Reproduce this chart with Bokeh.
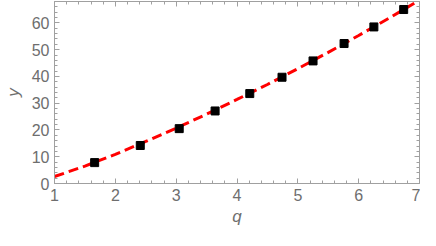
from bokeh.plotting import figure
from bokeh.models import Range1d, LinearAxis, FixedTicker
from bokeh.embed import file_html
from bokeh.resources import INLINE

# data points (squares)
q_data = [1.66, 2.41, 3.05, 3.64, 4.21, 4.74, 5.25, 5.76, 6.25, 6.74]
y_data = [7.8, 14.2, 20.5, 27.1, 33.6, 39.7, 45.8, 52.3, 58.5, 65.0]

# fitted curve (red dashed)
q_fit = [1.0, 1.5, 2.0, 2.5, 3.0, 3.5, 4.0, 4.5, 5.0, 5.5, 6.0, 6.5, 7.0]
y_fit = [2.6, 6.5, 10.9, 15.7, 20.7, 25.9, 31.4, 37.0, 42.9, 49.0, 55.3, 61.8, 68.5]

x_major = [1, 2, 3, 4, 5, 6, 7]
y_major = [0, 10, 20, 30, 40, 50, 60]
x_minor = [round(1 + 0.2 * i, 2) for i in range(31) if i % 5]
y_minor = [2 * i for i in range(35) if i % 5]

X_MIN, X_MAX = 1, 7
Y_MIN, Y_MAX = 0, 68

FONT = "Liberation Sans"
GRAY = "#a0a0a0"
LABEL = "#6e6e6e"

p = figure(width=420, height=230, output_backend="svg", toolbar_location=None,
           x_range=Range1d(X_MIN, X_MAX), y_range=Range1d(Y_MIN, Y_MAX),
           x_axis_location=None, y_axis_location=None,
           min_border_left=51, min_border_right=1, min_border_top=1, min_border_bottom=47)
p.grid.visible = False
p.outline_line_color = GRAY
p.outline_line_width = 1
p.background_fill_color = "white"
p.border_fill_color = "white"

def style(ax):
    ax.axis_line_color = GRAY
    ax.major_tick_line_color = GRAY
    ax.minor_tick_line_color = GRAY
    ax.major_tick_in = 5
    ax.major_tick_out = 0
    ax.minor_tick_in = 3
    ax.minor_tick_out = 0
    ax.major_label_text_font = FONT
    ax.major_label_text_color = LABEL
    ax.major_label_text_font_size = "16px"
    ax.axis_label_text_font = FONT
    ax.axis_label_text_color = LABEL
    ax.axis_label_text_font_style = "italic"
    ax.axis_label_text_font_size = "17px"

xb = LinearAxis(ticker=FixedTicker(ticks=x_major, minor_ticks=x_minor),
                axis_label="q", major_label_standoff=5, axis_label_standoff=3)
style(xb)
p.add_layout(xb, "below")

yl = LinearAxis(ticker=FixedTicker(ticks=y_major, minor_ticks=y_minor),
                axis_label="y", major_label_standoff=5, axis_label_standoff=6)
style(yl)
p.add_layout(yl, "left")

# mirrored ticks on top and right (no labels), pinned to the frame edges
for loc, majors, minors, edge in (("above", x_major, x_minor, Y_MAX),
                                  ("right", y_major, y_minor, X_MAX)):
    for vals, length in ((majors, 5), (minors, 3)):
        ax = LinearAxis(ticker=FixedTicker(ticks=[], minor_ticks=vals), fixed_location=edge)
        style(ax)
        ax.minor_tick_in = length
        ax.major_label_standoff = 0
        p.add_layout(ax, loc)

p.line(q_fit, y_fit, line_color="#ff0000", line_width=3, line_dash="10 5")
p.scatter(q_data, y_data, marker="square", size=8, fill_color="black", line_color="black")

open("out.html", "w").write(file_html(p, INLINE))
